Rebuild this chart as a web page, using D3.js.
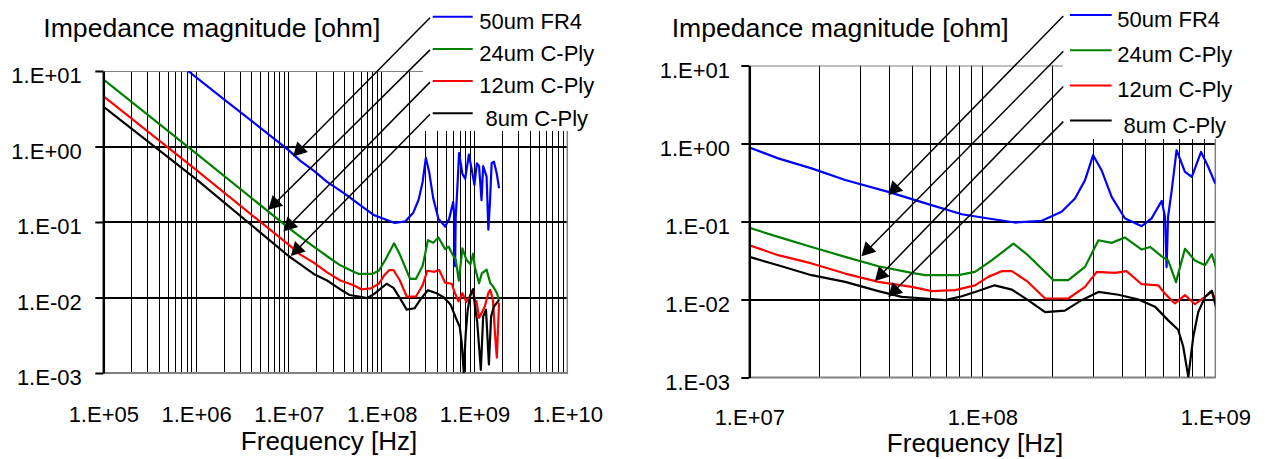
<!DOCTYPE html>
<html>
<head>
<meta charset="utf-8">
<script src="https://cdn.jsdelivr.net/npm/d3@7"></script>
<style>
  html, body { margin: 0; padding: 0; background: #fff; }
  svg { display: block; }
  text { font-family: "Liberation Sans", Arial, sans-serif; fill: #000; }
</style>
</head>
<body>
<svg id="chart" width="1265" height="459"></svg>
<script>
// ---- axis ticks ----
const freqTicksWide = [1e5, 1e6, 1e7, 1e8, 1e9, 1e10];
const freqTicksZoom = [1e7, 1e8, 1e9];
const impedanceTicks = [1e1, 1e0, 1e-1, 1e-2, 1e-3];

// ---- series: [frequency (Hz), impedance magnitude (ohm)] ----
const seriesNames = ["50um FR4", "24um C-Ply", "12um C-Ply", " 8um C-Ply"];
const seriesColors = ["#0000ff", "#008000", "#ff0000", "#000000"];

const fr4_50um = [
  [8.2e5, 10.0], [2.0e6, 4.2], [5.0e6, 1.74], [1.0e7, 0.89], [1.33e7, 0.645],
  [1.85e7, 0.48], [2.58e7, 0.34], [3.95e7, 0.24], [5.86e7, 0.167], [8.17e7, 0.124],
  [1.03e8, 0.111], [1.38e8, 0.097], [1.80e8, 0.102], [2.19e8, 0.133], [2.50e8, 0.197],
  [2.76e8, 0.339], [2.99e8, 0.708], [3.25e8, 0.455], [3.59e8, 0.207], [4.09e8, 0.110],
  [4.83e8, 0.087], [5.33e8, 0.110], [5.89e8, 0.184], [6.08e8, 0.115], [6.18e8, 0.026],
  [6.27e8, 0.115], [6.50e8, 0.251], [6.82e8, 0.82], [7.41e8, 0.433], [7.93e8, 0.373],
  [8.69e8, 0.78], [9.33e8, 0.50], [9.98e8, 0.31], [1.06e9, 0.60], [1.12e9, 0.55],
  [1.19e9, 0.195], [1.24e9, 0.55], [1.35e9, 0.40], [1.41e9, 0.079], [1.47e9, 0.19],
  [1.53e9, 0.60], [1.62e9, 0.63], [1.73e9, 0.45], [1.84e9, 0.28]
];

const cply_24um = [
  [1.0e5, 7.76], [1.0e6, 0.81], [1.0e7, 0.083], [1.33e7, 0.0635], [1.85e7, 0.0472],
  [2.58e7, 0.0352], [3.58e7, 0.0267], [4.98e7, 0.0219], [5.68e7, 0.0205], [7.89e7, 0.0205],
  [9.31e7, 0.0226], [1.10e8, 0.0319], [1.36e8, 0.0522], [1.57e8, 0.0370], [2.02e8, 0.0177],
  [2.34e8, 0.0177], [2.76e8, 0.0262], [3.15e8, 0.0575], [3.59e8, 0.0532], [4.09e8, 0.0624],
  [4.83e8, 0.0437], [5.25e8, 0.0472], [5.89e8, 0.0358], [6.28e8, 0.0316], [6.78e8, 0.0167],
  [7.41e8, 0.0447], [8.18e8, 0.0316], [9.04e8, 0.0275], [9.66e8, 0.0380], [1.01e9, 0.0251],
  [1.12e9, 0.0155], [1.20e9, 0.0209], [1.35e9, 0.0234], [1.48e9, 0.0155], [1.58e9, 0.0141],
  [1.74e9, 0.0115], [1.84e9, 0.0093]
];

const cply_12um = [
  [1.0e5, 4.66], [1.0e6, 0.49], [1.0e7, 0.0497], [1.33e7, 0.037], [1.85e7, 0.029],
  [2.58e7, 0.0215], [3.58e7, 0.0168], [4.98e7, 0.0145], [6.07e7, 0.0128], [7.64e7, 0.0132],
  [9.31e7, 0.0152], [1.06e8, 0.0195], [1.21e8, 0.0231], [1.34e8, 0.0231], [1.57e8, 0.0168],
  [1.86e8, 0.0103], [2.34e8, 0.0103], [2.76e8, 0.0145], [3.10e8, 0.0226], [3.71e8, 0.0219],
  [4.16e8, 0.0231], [4.83e8, 0.0157], [5.69e8, 0.0152], [6.08e8, 0.0119], [6.71e8, 0.0089],
  [7.41e8, 0.0114], [8.18e8, 0.0087], [9.04e8, 0.0108], [9.66e8, 0.0128], [1.01e9, 0.0091],
  [1.05e9, 0.0089], [1.12e9, 0.0054], [1.20e9, 0.0063], [1.29e9, 0.0076], [1.41e9, 0.0115],
  [1.48e9, 0.0126], [1.58e9, 0.0093], [1.66e9, 0.0034], [1.74e9, 0.0016], [1.84e9, 0.0085]
];

const cply_8um = [
  [1.0e5, 3.37], [1.0e6, 0.37], [1.0e7, 0.0352], [1.33e7, 0.0275], [1.85e7, 0.0205],
  [2.58e7, 0.0168], [3.58e7, 0.0128], [4.51e7, 0.0108], [5.68e7, 0.0103], [6.92e7, 0.0098],
  [8.17e7, 0.0110], [9.31e7, 0.0125], [1.13e8, 0.0152], [1.34e8, 0.0134], [1.57e8, 0.0098],
  [1.86e8, 0.0069], [2.26e8, 0.0072], [2.67e8, 0.0098], [3.15e8, 0.0125], [3.84e8, 0.0115],
  [4.68e8, 0.0100], [5.51e8, 0.0081], [6.28e8, 0.0054], [6.93e8, 0.0041], [7.28e8, 0.0025],
  [7.66e8, 0.00102], [8.04e8, 0.0033], [8.45e8, 0.0069], [9.04e8, 0.0108], [9.66e8, 0.0129],
  [1.01e9, 0.0078], [1.07e9, 0.0047], [1.17e9, 0.0011], [1.24e9, 0.0056], [1.33e9, 0.0069],
  [1.43e9, 0.0013], [1.51e9, 0.0056], [1.62e9, 0.0076], [1.74e9, 0.0085], [1.84e9, 0.0093]
];

// points on each curve that the legend callout arrows land on, [Hz, ohm]
const calloutTargetsWide = [[1.11e7, 0.738], [6.0e6, 0.145], [8.71e6, 0.075], [1.05e7, 0.0355]];
const calloutTargetsZoom = [[3.95e7, 0.217], [3.03e7, 0.0359], [3.46e7, 0.0173], [3.95e7, 0.0108]];

const seriesData = [fr4_50um, cply_24um, cply_12um, cply_8um];

// ---- layout of the two panels ----
const panels = [
  {
    id: "wide", xDomain: [1e5, 1e10], xTicks: freqTicksWide,
    left: 103.3, right: 567.3, top: 71, bottom: 373,
    yLabelRight: 81.7, yLabelDy: 11.5, xLabelBase: 421.7,
    title: { x: 43.3, y: 36.5 }, xTitle: { x: 329, y: 450 },
    box: { x: 423, y: 0, w: 215, h: 131 },
    legend: { x0: 432.7, x1: 472.7, y0: 16.7, step: 32.2, tx: 479.3, dy: 12.3 },
    calloutX: 430, targets: calloutTargetsWide
  },
  {
    id: "zoom", xDomain: [1e7, 1e9], xTicks: freqTicksZoom,
    left: 749.3, right: 1215.3, top: 65.5, bottom: 377.5,
    yLabelRight: 730, yLabelDy: 12, xLabelBase: 425,
    title: { x: 671.7, y: 36.5 }, xTitle: { x: 975, y: 452 },
    box: { x: 1063, y: 0, w: 202, h: 139 },
    legend: { x0: 1070, x1: 1111.7, y0: 15, step: 35.2, tx: 1117.3, dy: 12 },
    calloutX: 1063.3, targets: calloutTargetsZoom
  }
];

const svg = d3.select("#chart");
const fmtExp = v => {
  const e = Math.round(Math.log10(v));
  return "1.E" + (e < 0 ? "-" : "+") + String(Math.abs(e)).padStart(2, "0");
};
const snap = v => Math.round(v - 0.5) + 0.5;

panels.forEach(p => {
  const x = d3.scaleLog().domain(p.xDomain).range([p.left, p.right]);
  const y = d3.scaleLog().domain([1e-3, 1e1]).range([p.bottom, p.top]);
  const g = svg.append("g").attr("class", "panel-" + p.id);

  // minor/major vertical grid (1..9 x 10^n), excluding the frame edges
  const lo = p.xDomain[0] * 1.001, hi = p.xDomain[1] * 0.999;
  g.append("g").selectAll("line")
    .data(x.ticks().filter(v => v > lo && v < hi))
    .join("line")
    .attr("x1", d => snap(x(d))).attr("x2", d => snap(x(d)))
    .attr("y1", p.top).attr("y2", p.bottom)
    .attr("stroke", "#000").attr("stroke-width", 1);

  // decade grid lines
  g.append("g").selectAll("line")
    .data(impedanceTicks.slice(1, -1))
    .join("line")
    .attr("x1", p.left).attr("x2", p.right)
    .attr("y1", d => Math.round(y(d))).attr("y2", d => Math.round(y(d)))
    .attr("stroke", "#000").attr("stroke-width", 2);

  // plot frame (grey)
  g.append("line").attr("x1", p.left).attr("x2", p.right).attr("y1", p.top + 0.5).attr("y2", p.top + 0.5)
    .attr("stroke", "#808080").attr("stroke-width", 1);
  g.append("line").attr("x1", p.right).attr("x2", p.right).attr("y1", p.top).attr("y2", p.bottom)
    .attr("stroke", "#808080").attr("stroke-width", 1.5);
  g.append("line").attr("x1", p.left).attr("x2", p.right + 0.75).attr("y1", p.bottom).attr("y2", p.bottom)
    .attr("stroke", "#808080").attr("stroke-width", 2);

  // curves, clipped to the plot area
  const clipId = "clip-" + p.id;
  svg.append("defs").append("clipPath").attr("id", clipId)
    .append("rect").attr("x", p.left).attr("y", p.top)
    .attr("width", p.right - p.left).attr("height", p.bottom - p.top);
  const line = d3.line().x(d => x(d[0])).y(d => y(d[1]));
  g.append("g").attr("clip-path", `url(#${clipId})`)
    .selectAll("path")
    .data(seriesData)
    .join("path")
    .attr("d", line)
    .attr("fill", "none")
    .attr("stroke", (d, i) => seriesColors[i])
    .attr("stroke-width", 2.2)
    .attr("stroke-linejoin", "round");

  // impedance axis
  const yAxis = g.append("g")
    .attr("transform", `translate(${p.left},0)`)
    .call(d3.axisLeft(y).tickValues(impedanceTicks).tickFormat(fmtExp)
      .tickSize(8).tickSizeOuter(0).tickPadding(p.left - 8 - p.yLabelRight));
  yAxis.select(".domain").attr("stroke", "#000").attr("stroke-width", 2.5);
  yAxis.selectAll(".tick line").attr("stroke", "#000").attr("stroke-width", 2);
  yAxis.selectAll(".tick text")
    .attr("font-size", 22).attr("font-family", "Liberation Sans, Arial, sans-serif")
    .attr("dy", null).attr("y", p.yLabelDy);
  yAxis.attr("font-family", null).attr("font-size", null);

  // frequency axis labels
  const xAxis = g.append("g")
    .attr("transform", `translate(0,${p.bottom})`)
    .call(d3.axisBottom(x).tickValues(p.xTicks).tickFormat(fmtExp).tickSize(0));
  xAxis.select(".domain").remove();
  xAxis.selectAll(".tick line").remove();
  xAxis.selectAll(".tick text")
    .attr("font-size", 22).attr("font-family", "Liberation Sans, Arial, sans-serif")
    .attr("dy", null).attr("y", p.xLabelBase - p.bottom);
  xAxis.attr("font-family", null).attr("font-size", null);

  // titles
  g.append("text").attr("x", p.title.x).attr("y", p.title.y)
    .attr("font-size", 26.6).text("Impedance magnitude [ohm]");
  g.append("text").attr("x", p.xTitle.x).attr("y", p.xTitle.y)
    .attr("font-size", 26).attr("text-anchor", "middle").text("Frequency [Hz]");

  // legend panel
  g.append("rect").attr("x", p.box.x).attr("y", p.box.y)
    .attr("width", p.box.w).attr("height", p.box.h).attr("fill", "#fff");
  const L = p.legend;
  const items = g.append("g").selectAll("g").data(seriesNames).join("g");
  items.append("line")
    .attr("x1", L.x0).attr("x2", L.x1)
    .attr("y1", (d, i) => L.y0 + i * L.step).attr("y2", (d, i) => L.y0 + i * L.step)
    .attr("stroke", (d, i) => seriesColors[i]).attr("stroke-width", 2);
  items.append("text")
    .attr("x", L.tx).attr("y", (d, i) => L.y0 + i * L.step + L.dy)
    .attr("font-size", 22).style("white-space", "pre")
    .text(d => d);

  // callout arrows from each legend entry to its curve
  const headLen = 13.5, headHalf = 7.5;
  p.targets.forEach((t, i) => {
    const tx = x(t[0]), ty = y(t[1]);
    const sx = p.calloutX, sy = L.y0 + i * L.step + 1;
    const len = Math.hypot(tx - sx, ty - sy);
    const ux = (tx - sx) / len, uy = (ty - sy) / len;
    const bx = tx - ux * headLen, by = ty - uy * headLen;
    g.append("line").attr("x1", sx).attr("y1", sy).attr("x2", bx + ux * 2).attr("y2", by + uy * 2)
      .attr("stroke", "#000").attr("stroke-width", 1.5);
    g.append("path")
      .attr("d", `M${tx},${ty}L${bx - uy * headHalf},${by + ux * headHalf}L${bx + uy * headHalf},${by - ux * headHalf}Z`)
      .attr("fill", "#000");
  });
});
</script>
</body>
</html>
